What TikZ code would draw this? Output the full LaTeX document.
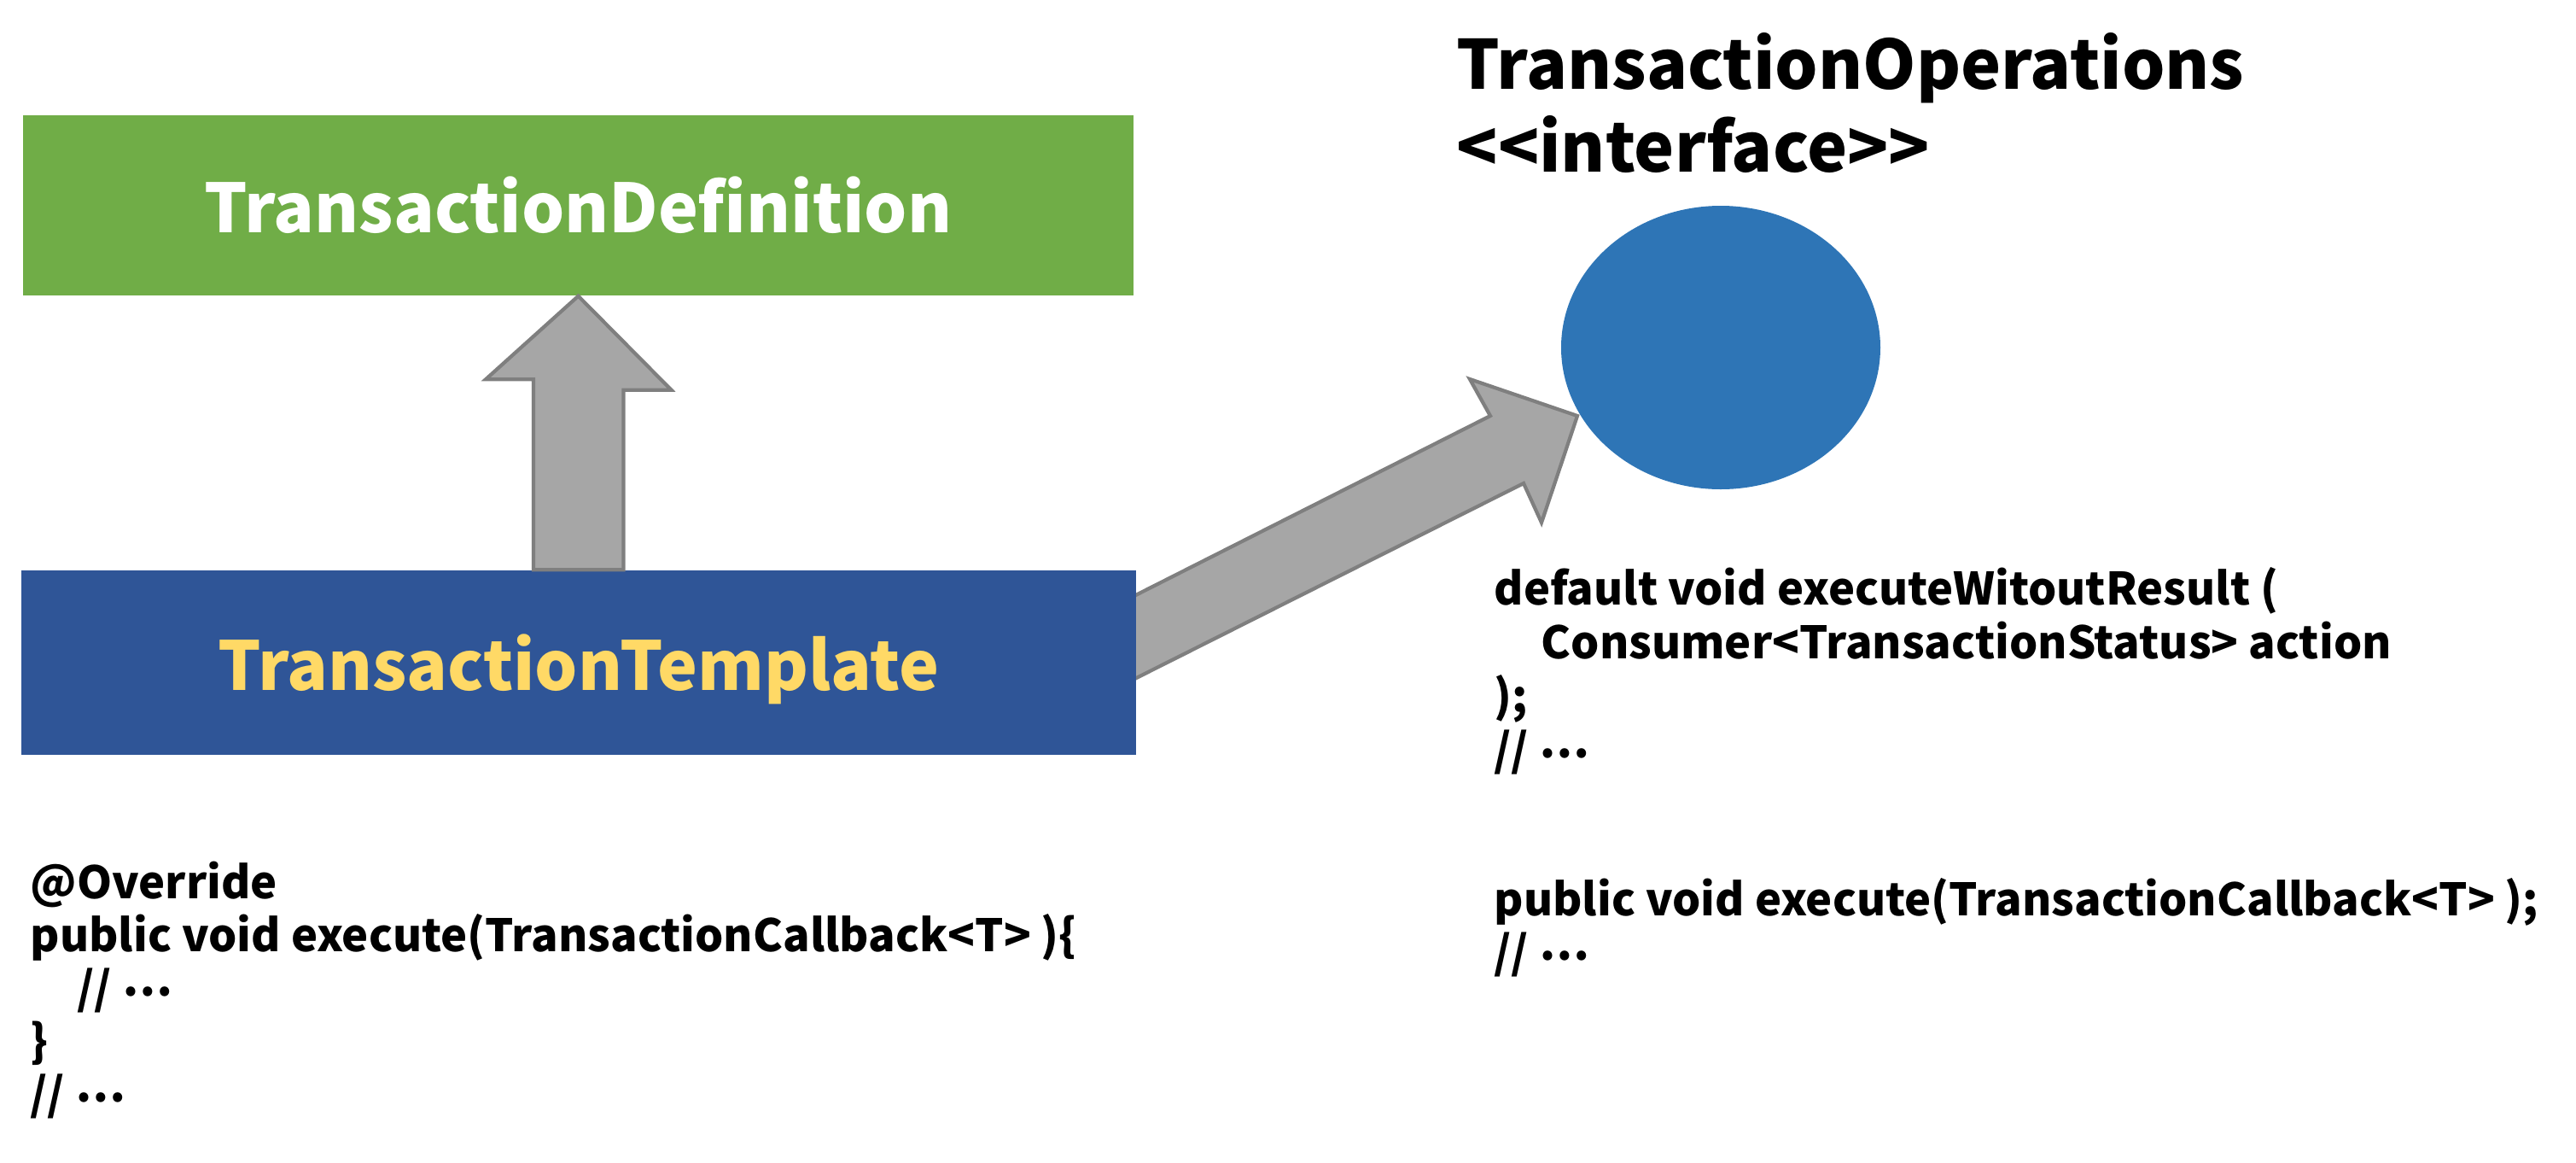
\documentclass[tikz,border=0pt]{standalone}
\usepackage{fontspec}
\setmainfont{Noto Sans CJK KR}
\usetikzlibrary{shapes.geometric}

\definecolor{defgreen}{HTML}{70AD47}
\definecolor{tmplblue}{HTML}{2F5597}
\definecolor{tmplyellow}{HTML}{FFD966}
\definecolor{opsblue}{HTML}{2E75B6}
\definecolor{arrowfill}{HTML}{A6A6A6}
\definecolor{arrowline}{HTML}{7F7F7F}

\newcommand{\dotsmid}{\raisebox{2.6pt}{…}}

\tikzset{
    classbox/.style={rectangle, inner sep=0pt, font=\fontsize{22.5}{27}\selectfont\bfseries},
    codeline/.style={anchor=base west, inner sep=0pt, font=\fontsize{14.9}{18}\selectfont\bfseries},
    titleline/.style={anchor=base west, inner sep=0pt, font=\fontsize{22.6}{27.6}\selectfont\bfseries},
    blockarrow/.style={fill=arrowfill, draw=arrowline, line width=1.2pt, line join=miter}
}

\begin{document}
\begin{tikzpicture}
    \useasboundingbox (0, 0) rectangle (30.18, -13.62);

    % 인터페이스 쪽 화살표 (꼬리는 상자 밑에 숨김)
    \draw[blockarrow] (12.00, -7.63) -- (17.46, -4.87) -- (17.22, -4.44) -- (18.48, -4.87)
        -- (18.06, -6.12) -- (17.85, -5.66) -- (12.00, -8.60) -- cycle;

    \node[classbox, fill=defgreen, text=white, minimum width=13.01cm, minimum height=2.11cm] (def) at (6.775, -2.405) {TransactionDefinition};
    \node[classbox, fill=tmplblue, text=tmplyellow, text depth=0pt, minimum width=13.06cm, minimum height=2.16cm] (tmpl) at (6.78, -7.76) {TransactionTemplate};

    \node[ellipse, fill=opsblue, inner sep=0pt, minimum width=3.74cm, minimum height=3.32cm] (ops) at (20.16, -4.07) {};

    % 상속 화살표
    \draw[blockarrow] (def.south) -- ++(1.09, -1.10) -- ++(-0.56, 0) |- ([xshift=-0.53cm]tmpl.north)
        -- ++(0, 2.23) -- ++(-0.56, 0) -- cycle;

    \node[titleline] (ops_name) at (17.06, -1.04) {TransactionOperations};
    \node[titleline] (ops_stereo) at (17.06, -2.01) {<\kern0pt<interface>\kern0pt>};

    \node[codeline] (t1) at (0.35, -10.52) {@Override};
    \node[codeline] (t2) at (0.35, -11.14) {public void execute(TransactionCallback<T> )\{};
    \node[codeline] (t3) at (0.90, -11.76) {// \dotsmid};
    \node[codeline] (t4) at (0.35, -12.38) {\}};
    \node[codeline] (t5) at (0.35, -13.00) {// \dotsmid};

    \node[codeline] (o1) at (17.50, -7.08) {default void executeWitoutResult (};
    \node[codeline] (o2) at (18.05, -7.71) {Consumer<TransactionStatus> action};
    \node[codeline] (o3) at (17.50, -8.34) {);};
    \node[codeline] (o4) at (17.50, -8.97) {// \dotsmid};
    \node[codeline] (o5) at (17.50, -10.72) {public void execute(TransactionCallback<T> );};
    \node[codeline] (o6) at (17.50, -11.34) {// \dotsmid};

\end{tikzpicture}
\end{document}
